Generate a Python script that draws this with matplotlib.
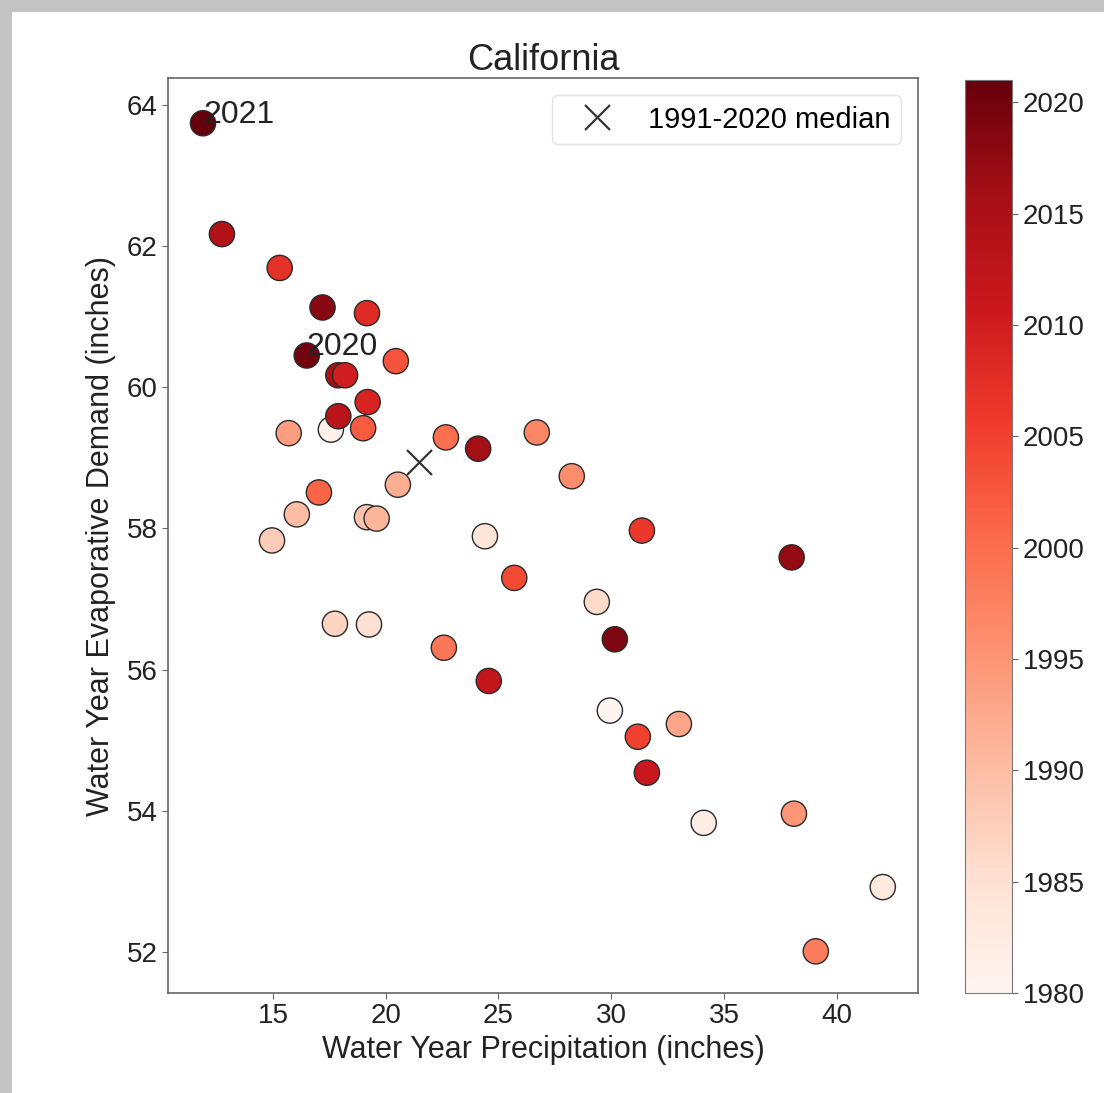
import matplotlib
matplotlib.use("Agg")
import matplotlib.pyplot as plt
from matplotlib.patches import Rectangle

plt.rcParams['font.family'] = ['Liberation Sans', 'DejaVu Sans']

# Data (water year precipitation, evaporative demand, year)
precip = [11.9, 12.74, 15.3, 17.2, 19.17, 16.5, 20.45, 17.9, 18.2, 19.2,
          17.57, 17.9, 15.7, 19.0, 22.67, 24.1, 26.7, 20.54, 28.25, 17.04,
          16.06, 19.17, 19.6, 14.96, 24.4, 31.36, 38.0, 25.7, 29.36, 30.16,
          17.75, 19.26, 22.58, 24.57, 29.94, 33.0, 31.18, 31.58, 34.1, 38.1,
          42.04, 39.07]
demand = [63.74, 62.17, 61.69, 61.13, 61.05, 60.45, 60.37, 60.17, 60.17, 59.79,
          59.40, 59.59, 59.35, 59.42, 59.29, 59.13, 59.36, 58.62, 58.74, 58.51,
          58.20, 58.16, 58.14, 57.83, 57.89, 57.97, 57.59, 57.30, 56.96, 56.43,
          56.65, 56.64, 56.31, 55.84, 55.42, 55.23, 55.05, 54.54, 53.83, 53.96,
          52.92, 52.01]
years = [2021, 2014, 2007, 2018, 2008, 2020, 2003, 2015, 2010, 2009,
         1981, 2013, 1994, 2002, 2000, 2016, 1997, 1992, 1996, 2001,
         1990, 1989, 1991, 1988, 1984, 2006, 2017, 2004, 1986, 2019,
         1987, 1985, 1999, 2012, 1980, 1993, 2005, 2011, 1982, 1995,
         1983, 1998]
median_precip = [21.47]
median_demand = [58.94]
labels = {2021: "2021", 2020: "2020"}

fig = plt.figure(figsize=(11.04, 10.93), dpi=100)
fig.patch.set_facecolor('white')
# grey frame of the screenshot
fig.patches.append(Rectangle((0, 0), 12/1104, 1, transform=fig.transFigure,
                             facecolor='#c3c3c3', edgecolor='none', zorder=0))
fig.patches.append(Rectangle((0, 1 - 12/1093), 1, 12/1093, transform=fig.transFigure,
                             facecolor='#c3c3c3', edgecolor='none', zorder=0))

ax = fig.add_axes([0.1522, 0.0915, 0.6793, 0.8371])
cax = fig.add_axes([0.8741, 0.0915, 0.0426, 0.8353])

sc = ax.scatter(precip, demand, c=years, cmap='Reds', vmin=1980, vmax=2021,
                s=330, edgecolors='#2a2a2a', linewidths=1.0, zorder=3)
ax.plot(median_precip, median_demand, linestyle='none', marker='x',
        markersize=18, markeredgewidth=1.6, color='#333333', zorder=4,
        label='1991-2020 median')

for p, d, y in zip(precip, demand, years):
    if y in labels:
        ax.text(p, d, labels[y], fontsize=23, color='#222222', zorder=5)

ax.set_xlim(10.35, 43.6)
ax.set_ylim(51.42, 64.38)
ax.set_xticks([15, 20, 25, 30, 35, 40])
ax.set_yticks([52, 54, 56, 58, 60, 62, 64])
ax.tick_params(labelsize=20, colors='#222222', length=4, color='#666666')
for s in ax.spines.values():
    s.set_color('#666666')
    s.set_linewidth(1.2)
ax.set_xlabel('Water Year Precipitation (inches)', fontsize=22, color='#222222', labelpad=4)
ax.set_ylabel('Water Year Evaporative Demand (inches)', fontsize=22, color='#222222', labelpad=8)
ax.set_title('California', fontsize=26, color='#222222', pad=6)

leg = ax.legend(loc='upper right', fontsize=21, frameon=True, borderpad=0.35,
                handletextpad=0.55, handlelength=2.4, markerscale=1.0,
                bbox_to_anchor=(0.997, 0.997))
leg.get_frame().set_edgecolor('#dddddd')

cb = fig.colorbar(sc, cax=cax)
cb.set_ticks([1980, 1985, 1990, 1995, 2000, 2005, 2010, 2015, 2020])
cb.ax.tick_params(labelsize=20, colors='#222222', length=4, color='#666666')
cb.outline.set_edgecolor('#777777')

fig.savefig('out.png', dpi=100, facecolor='white')
